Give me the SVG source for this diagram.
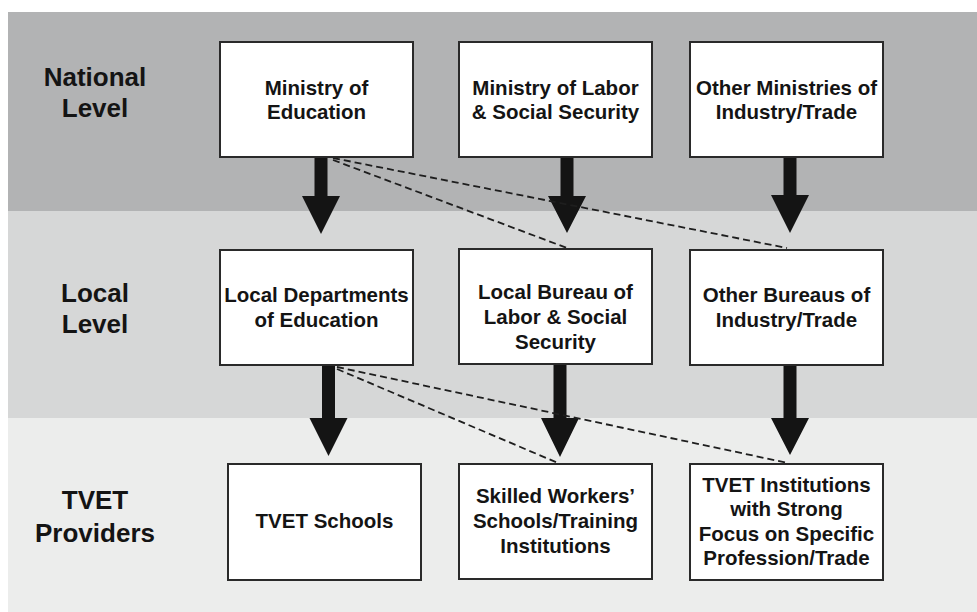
<svg xmlns="http://www.w3.org/2000/svg" width="977" height="612" viewBox="0 0 977 612">
<defs>
<style>
.box{fill:#fff;stroke:#2a2a2a;stroke-width:2}
.bt{font-family:"Liberation Sans",Arial,sans-serif;font-weight:bold;font-size:20.5px;fill:#141414;text-anchor:middle}
.lt{font-family:"Liberation Sans",Arial,sans-serif;font-weight:bold;font-size:26px;fill:#141414;text-anchor:middle}
.arr{fill:#141414}
.dash{fill:none;stroke:#1e1e1e;stroke-width:1.8;stroke-dasharray:7 4}
</style>
</defs>
<rect x="0" y="0" width="977" height="612" fill="#fff"/>
<g id="bands">
<rect x="8" y="12" width="969" height="199" fill="#b2b3b4"/>
<rect x="8" y="211" width="969" height="207" fill="#d6d7d7"/>
<rect x="8" y="418" width="969" height="194" fill="#ecedec"/>
</g>
<g id="level-labels">
<text class="lt" x="95" y="86">National</text>
<text class="lt" x="95" y="117">Level</text>
<text class="lt" x="95" y="302">Local</text>
<text class="lt" x="95" y="333">Level</text>
<text class="lt" x="95" y="509">TVET</text>
<text class="lt" x="95" y="542">Providers</text>
</g>
<g id="connectors">
<path class="arr" d="M314.5,157 H327.5 V196 H340 L321,234 L302,196 H314.5 Z"/>
<path class="arr" d="M560.5,157 H573.5 V196 H586 L567,233 L548,196 H560.5 Z"/>
<path class="arr" d="M783.5,157 H796.5 V195 H809 L790,233 L771,195 H783.5 Z"/>
<path class="arr" d="M322,365 H335 V418 H347.5 L328.5,456 L309.5,418 H322 Z"/>
<path class="arr" d="M553.5,364 H566.5 V418 H579 L560,457 L541,418 H553.5 Z"/>
<path class="arr" d="M783.5,365 H796.5 V418 H809 L790,455 L771,418 H783.5 Z"/>
<line class="dash" x1="333" y1="160" x2="567" y2="248"/>
<line class="dash" x1="333" y1="158" x2="787" y2="248"/>
<line class="dash" x1="337" y1="369" x2="558" y2="463"/>
<line class="dash" x1="337" y1="367" x2="788" y2="463"/>
</g>
<g id="n-moe">
<rect class="box" x="220" y="42" width="193" height="115"/>
<text class="bt" x="316.5" y="95">Ministry of</text>
<text class="bt" x="316.5" y="119">Education</text>
</g>
<g id="n-mol">
<rect class="box" x="459" y="42" width="193" height="115"/>
<text class="bt" x="555.5" y="95">Ministry of Labor</text>
<text class="bt" x="555.5" y="119">&amp; Social Security</text>
</g>
<g id="n-other">
<rect class="box" x="690" y="42" width="193" height="115"/>
<text class="bt" x="786.5" y="95">Other Ministries of</text>
<text class="bt" x="786.5" y="119">Industry/Trade</text>
</g>
<g id="l-edu">
<rect class="box" x="220" y="250" width="193" height="115"/>
<text class="bt" x="316.5" y="302">Local Departments</text>
<text class="bt" x="316.5" y="327">of Education</text>
</g>
<g id="l-lab">
<rect class="box" x="459" y="249" width="193" height="115"/>
<text class="bt" x="555.5" y="299">Local Bureau of</text>
<text class="bt" x="555.5" y="324">Labor &amp; Social</text>
<text class="bt" x="555.5" y="349">Security</text>
</g>
<g id="l-other">
<rect class="box" x="690" y="250" width="193" height="115"/>
<text class="bt" x="786.5" y="302">Other Bureaus of</text>
<text class="bt" x="786.5" y="327">Industry/Trade</text>
</g>
<g id="t-schools">
<rect class="box" x="228" y="464" width="193" height="116"/>
<text class="bt" x="324.5" y="528">TVET Schools</text>
</g>
<g id="t-skilled">
<rect class="box" x="459" y="464" width="193" height="115"/>
<text class="bt" x="555.5" y="503">Skilled Workers’</text>
<text class="bt" x="555.5" y="528">Schools/Training</text>
<text class="bt" x="555.5" y="553">Institutions</text>
</g>
<g id="t-focus">
<rect class="box" x="690" y="464" width="193" height="116"/>
<text class="bt" x="786.5" y="492">TVET Institutions</text>
<text class="bt" x="786.5" y="516">with Strong</text>
<text class="bt" x="786.5" y="541">Focus on Specific</text>
<text class="bt" x="786.5" y="565">Profession/Trade</text>
</g>
</svg>
